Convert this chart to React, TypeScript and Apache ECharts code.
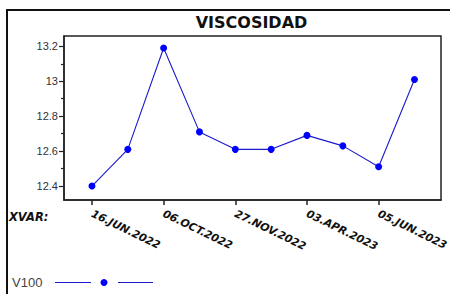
import React, { useEffect, useRef } from "react";
import * as echarts from "echarts";

const chartTitle = "VISCOSIDAD";
const seriesName = "V100";
const xAxisName = "XVAR:";
const values = [12.4, 12.61, 13.19, 12.71, 12.61, 12.61, 12.69, 12.63, 12.51, 13.01];
const xLabelPositions = [1, 3, 5, 7, 9];
const xLabels = ["16.JUN.2022", "06.OCT.2022", "27.NOV.2022", "03.APR.2023", "05.JUN.2023"];
const yMajorTicks = [12.4, 12.6, 12.8, 13, 13.2];
const yMinorTicks = [12.5, 12.7, 12.9, 13.1];

export default function App() {
  const ref = useRef<HTMLDivElement>(null);
  useEffect(() => {
    if (!ref.current) return;
    const chart = echarts.init(ref.current, null, { renderer: "svg" });
    const axisLine = { show: true, lineStyle: { color: "#222", width: 1.5 } };
    chart.setOption({
      animation: false,
      backgroundColor: "#fff",
      grid: {
        left: 64,
        right: 9,
        top: 36,
        bottom: 94,
        show: true,
        borderColor: "#222",
        borderWidth: 1.5,
        containLabel: false,
        outerBoundsMode: "none",
      },
      xAxis: {
        type: "value",
        min: 0.22,
        max: 10.74,
        axisLine,
        splitLine: { show: false },
        axisTick: { show: true, customValues: xLabelPositions, length: 5, lineStyle: { color: "#222", width: 1.5 } },
        axisLabel: {
          customValues: xLabelPositions,
          formatter: (v: number) => {
            const i = xLabelPositions.indexOf(Math.round(v));
            return i >= 0 ? xLabels[i] : "";
          },
          rotate: -26,
          margin: 13,
          fontFamily: "DejaVu Sans",
          fontWeight: "bold",
          fontStyle: "italic",
          fontSize: 10.8,
          color: "#111",
        },
      },
      yAxis: [
        {
          type: "value",
          min: 12.32,
          max: 13.259,
          axisLine,
          splitLine: { show: false },
          axisTick: { show: true, customValues: yMajorTicks, length: 5, lineStyle: { color: "#222", width: 1.2 } },
          axisLabel: {
            customValues: yMajorTicks,
            margin: 6,
            fontFamily: "Liberation Sans",
            fontSize: 11,
            color: "#333",
          },
        },
        {
          type: "value",
          position: "left",
          min: 12.32,
          max: 13.259,
          axisLine: { show: false },
          splitLine: { show: false },
          axisTick: { show: true, customValues: yMinorTicks, length: 3, lineStyle: { color: "#222", width: 1.2 } },
          axisLabel: { show: false },
        },
      ],
      series: [
        {
          name: seriesName,
          type: "line",
          data: values.map((v, i) => [i + 1, v]),
          symbol: "circle",
          symbolSize: 7,
          itemStyle: { color: "#0000ff" },
          lineStyle: { color: "#1a1acc", width: 1.1 },
        },
      ],
      graphic: [
        {
          type: "rect",
          shape: { x: 7, y: 10, width: 470, height: 320 },
          style: { fill: "none", stroke: "#111", lineWidth: 2 },
          silent: true,
        },
        {
          type: "text",
          x: 251.5,
          y: 22,
          style: {
            text: chartTitle,
            textAlign: "center",
            textVerticalAlign: "middle",
            font: "bold 16px 'DejaVu Sans'",
            fill: "#111",
          },
        },
        {
          type: "text",
          x: 9,
          y: 217,
          style: {
            text: xAxisName,
            textAlign: "left",
            textVerticalAlign: "middle",
            font: "italic bold 11.5px 'DejaVu Sans'",
            fill: "#111",
          },
        },
        {
          type: "text",
          x: 12,
          y: 282,
          style: {
            text: seriesName,
            textAlign: "left",
            textVerticalAlign: "middle",
            font: "13px 'Liberation Sans'",
            fill: "#444",
          },
        },
        {
          type: "line",
          shape: { x1: 55, y1: 282.5, x2: 91, y2: 282.5 },
          style: { stroke: "#1a1acc", lineWidth: 1.2 },
        },
        {
          type: "circle",
          shape: { cx: 104, cy: 282.5, r: 3.5 },
          style: { fill: "#0000ff" },
        },
        {
          type: "line",
          shape: { x1: 118, y1: 282.5, x2: 153, y2: 282.5 },
          style: { stroke: "#1a1acc", lineWidth: 1.2 },
        },
      ],
    });
    return () => chart.dispose();
  }, []);
  return (
    <div
      ref={ref}
      style={{ position: "absolute", left: 0, top: 0, width: 450, height: 294 }}
    />
  );
}
